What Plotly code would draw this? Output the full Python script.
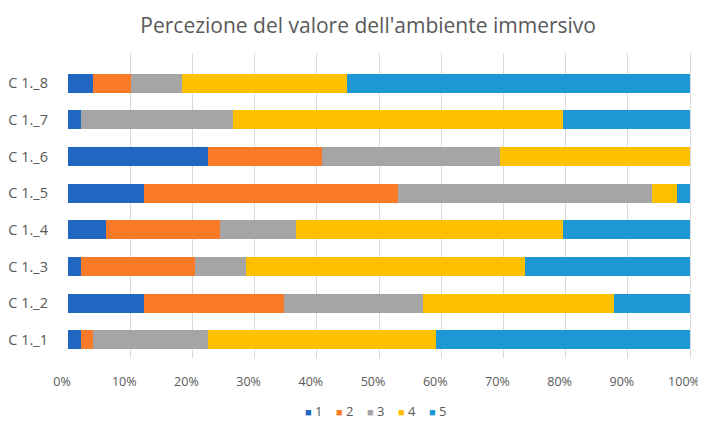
import plotly.graph_objects as go

categories = ["C 1._1", "C 1._2", "C 1._3", "C 1._4", "C 1._5", "C 1._6", "C 1._7", "C 1._8"]
series_names = ["1", "2", "3", "4", "5"]
# respondent counts per answer level (N = 49), normalised to percent by plotly
s1 = [1, 6, 1, 3, 6, 11, 1, 2]
s2 = [1, 11, 9, 9, 20, 9, 0, 3]
s3 = [9, 11, 4, 6, 20, 14, 12, 4]
s4 = [18, 15, 22, 21, 2, 15, 26, 13]
s5 = [20, 6, 13, 10, 1, 0, 10, 27]
x_ticks = [0, 10, 20, 30, 40, 50, 60, 70, 80, 90, 100]
x_tick_labels = ["0%", "10%", "20%", "30%", "40%", "50%", "60%", "70%", "80%", "90%", "100%"]

colors = ["#1f67c0", "#f97a28", "#a5a5a5", "#ffc000", "#1e98d4"]

fig = go.Figure()
for name, vals, c in zip(series_names, [s1, s2, s3, s4, s5], colors):
    fig.add_trace(go.Bar(
        y=categories, x=vals, name=name, orientation="h",
        marker=dict(color=c, line=dict(width=0)),
        showlegend=False,
    ))

legend_text = "&nbsp;&nbsp;&nbsp;&nbsp;".join(
    f"<span style='color:{c};font-size:11px'>■</span>&nbsp;{n}" for n, c in zip(series_names, colors)
)
fig.add_annotation(text=legend_text, xref="paper", yref="paper",
                   x=0.487, y=-0.174, xanchor="center", yanchor="middle",
                   showarrow=False, font=dict(size=13, color="#595959"))

# the page body has an 8px margin, so the figure is smaller than the window
fig.update_layout(
    barmode="stack",
    barnorm="percent",
    bargap=0.48,
    width=698, height=414,
    paper_bgcolor="white", plot_bgcolor="white",
    margin=dict(l=60, r=6, t=45, b=64),
    font=dict(family="Open Sans, Liberation Sans, sans-serif", color="#595959", size=13),
    title=dict(text="Percezione del valore dell'ambiente immersivo",
               xref="container", x=0.516, xanchor="center",
               yref="container", y=0.958, yanchor="middle",
               font=dict(size=21, color="#595959")),
    xaxis=dict(range=[0, 101.608], tickvals=x_ticks, ticktext=x_tick_labels,
               showgrid=True, gridcolor="#d9d9d9", gridwidth=1,
               zeroline=False, showline=False, ticks="",
               automargin=False, ticklabeloverflow="allow", ticklabelshift=-6,
               ticklabelstandoff=14, tickfont=dict(size=12.5, color="#595959")),
    yaxis=dict(categoryorder="array", categoryarray=categories,
               range=[-0.5, 7.827],
               showgrid=False, zeroline=False, showline=False, ticks="",
               automargin=False,
               ticklabelstandoff=19, tickfont=dict(size=14.5, color="#595959")),
)

fig.write_html("out.html")
